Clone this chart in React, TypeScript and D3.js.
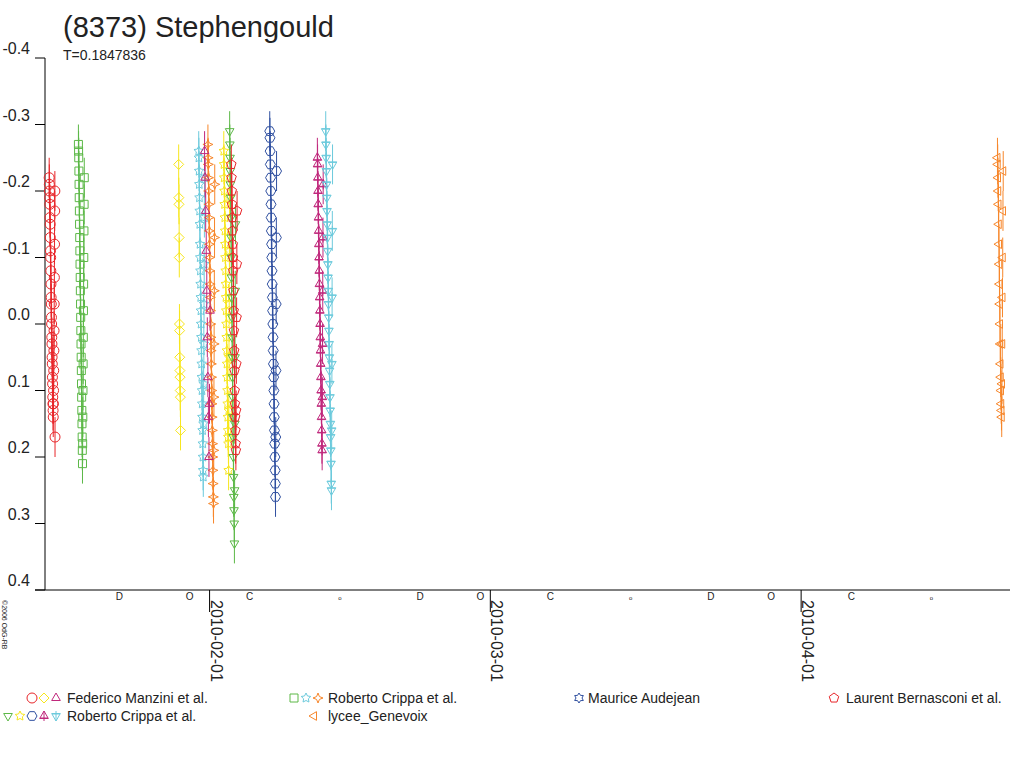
import React from "react";
import * as d3 from "d3";

const title = "(8373) Stephengould";
const subtitle = "T=0.1847836";
const yTicks = [-0.4, -0.3, -0.2, -0.1, 0.0, 0.1, 0.2, 0.3, 0.4];
const xTicks = ["2010-02-01", "2010-03-01", "2010-04-01"];
const moonDates = ["2010-01-23", "2010-01-30", "2010-02-05", "2010-02-14", "2010-02-22", "2010-02-28", "2010-03-07", "2010-03-15", "2010-03-23", "2010-03-29", "2010-04-06", "2010-04-14"];
const moonGlyphs = ["D", "O", "C", "o", "D", "O", "C", "o", "D", "O", "C", "o"];

const s1 = [-0.22, -0.21, -0.2, -0.19, -0.18, -0.16, -0.15, -0.13, -0.11, -0.1, -0.08, -0.06, -0.04, -0.03, -0.01, 0.0, 0.02, 0.03, 0.05, 0.06, 0.08, 0.09, 0.11, 0.12, 0.13, 0.14, 0.12, 0.1, 0.07, 0.04, 0.01, -0.03, -0.07, -0.12, -0.17, -0.2, 0.17];
const s2 = [-0.27, -0.26, -0.25, -0.23, -0.21, -0.19, -0.17, -0.15, -0.13, -0.11, -0.09, -0.07, -0.05, -0.03, -0.01, 0.01, 0.03, 0.05, 0.07, 0.09, 0.11, 0.13, 0.15, 0.17, 0.19, 0.21, 0.18, 0.14, 0.1, 0.06, 0.02, -0.02, -0.06, -0.1, -0.14, -0.18, -0.22];
const s3 = [-0.24, -0.19, -0.18, -0.13, -0.1, 0.0, 0.01, 0.05, 0.07, 0.08, 0.1, 0.11, 0.16];
const s4 = [-0.26, -0.25, -0.23, -0.21, -0.19, -0.17, -0.15, -0.12, -0.1, -0.08, -0.06, -0.04, -0.02, 0.0, 0.02, 0.04, 0.06, 0.08, 0.1, 0.12, 0.14, 0.16, 0.18, 0.2, 0.22, 0.23, 0.15, 0.09, 0.03, -0.03, -0.09, -0.16, -0.22];
const s5 = [-0.27, -0.25, -0.24, -0.22, -0.2, -0.18, -0.16, -0.14, -0.12, -0.1, -0.08, -0.06, -0.04, -0.02, 0.0, 0.02, 0.04, 0.06, 0.08, 0.1, 0.12, 0.14, 0.16, 0.18, 0.2, 0.22, 0.24, 0.26, 0.27, 0.19, 0.11, 0.03, -0.05, -0.13, -0.21];
const s6 = [-0.26, -0.24, -0.22, -0.2, -0.18, -0.16, -0.14, -0.12, -0.1, -0.08, -0.06, -0.04, -0.02, 0.0, 0.02, 0.04, 0.06, 0.08, 0.1, 0.12, 0.14, 0.16, 0.17, 0.18, 0.22, 0.13, 0.05, -0.03, -0.11, -0.19];
const s7 = [-0.29, -0.27, -0.25, -0.23, -0.21, -0.19, -0.16, -0.13, -0.1, -0.07, -0.04, -0.01, 0.02, 0.05, 0.08, 0.11, 0.14, 0.17, 0.2, 0.23, 0.26, 0.28, 0.3, 0.33, 0.25, 0.15, 0.05, -0.05, -0.15];
const s8 = [-0.24, -0.22, -0.2, -0.18, -0.16, -0.14, -0.12, -0.1, -0.08, -0.05, -0.02, 0.01, 0.04, 0.07, 0.1, 0.12, 0.14, 0.16, 0.18, 0.19, 0.13, 0.06, -0.01, -0.09, -0.17];
const s9 = [-0.29, -0.28, -0.26, -0.24, -0.22, -0.2, -0.18, -0.16, -0.14, -0.12, -0.1, -0.08, -0.06, -0.04, -0.02, 0.0, 0.02, 0.04, 0.06, 0.08, 0.1, 0.12, 0.14, 0.16, 0.18, 0.2, 0.22, 0.24, 0.26, 0.17, 0.07, -0.03, -0.13, -0.23];
const s10 = [-0.25, -0.24, -0.22, -0.2, -0.18, -0.16, -0.14, -0.12, -0.1, -0.08, -0.06, -0.04, -0.02, 0.0, 0.02, 0.04, 0.06, 0.08, 0.1, 0.12, 0.14, 0.16, 0.18, 0.19, 0.11, 0.03, -0.05, -0.13, -0.21];
const s11 = [-0.29, -0.27, -0.25, -0.23, -0.21, -0.19, -0.17, -0.15, -0.13, -0.11, -0.09, -0.07, -0.05, -0.03, -0.01, 0.01, 0.03, 0.05, 0.07, 0.09, 0.11, 0.13, 0.15, 0.17, 0.19, 0.21, 0.24, 0.25, 0.16, 0.06, -0.04, -0.14, -0.24];
const s12 = [-0.25, -0.24, -0.22, -0.2, -0.18, -0.15, -0.12, -0.09, -0.06, -0.03, 0.0, 0.03, 0.06, 0.08, 0.1, 0.12, 0.13, 0.14, 0.09, 0.03, -0.04, -0.1, -0.17, -0.23];
const s13 = [-0.26, -0.22, -0.17, -0.11, -0.05, 0.02, 0.08, 0.14, 0.2, 0.12, -0.02];

const sessions = [
  { start: "2010-01-16T00:00", days: 0.6, color: "#e8262a", sym: "circle", values: s1 },
  { start: "2010-01-18T22:00", days: 0.6, color: "#5cb847", sym: "square", values: s2 },
  { start: "2010-01-28T22:00", days: 0.2, color: "#f7e61c", sym: "diamond", values: s3 },
  { start: "2010-01-30T22:00", days: 0.6, color: "#6ccadc", sym: "star", values: s4 },
  { start: "2010-01-31T20:00", days: 0.7, color: "#f7862a", sym: "star4", values: s5 },
  { start: "2010-02-02T10:00", days: 0.6, color: "#f7e61c", sym: "star", values: s6 },
  { start: "2010-02-03T00:00", days: 0.6, color: "#5cb847", sym: "tdown", values: s7 },
  { start: "2010-02-03T04:00", days: 0.6, color: "#e8262a", sym: "pent", values: s8 },
  { start: "2010-02-07T00:00", days: 0.7, color: "#3050a0", sym: "hex", values: s9 },
  { start: "2010-02-11T18:00", days: 0.6, color: "#c0287c", sym: "wye", values: s10 },
  { start: "2010-02-12T14:00", days: 0.7, color: "#6ccadc", sym: "tstar", values: s11 },
  { start: "2010-04-20T14:00", days: 0.6, color: "#f7862a", sym: "tleft", values: s12 },
  { start: "2010-01-31T12:00", days: 0.6, color: "#c0287c", sym: "triangle", values: s13 },
];

const legendRows = [
  { x: 27, tx: 67, y: 698, syms: [["circle", "#e8262a"], ["diamond", "#f7e61c"], ["triangle", "#c0287c"]], label: "Federico Manzini et al." },
  { x: 289, tx: 328, y: 698, syms: [["square", "#5cb847"], ["star", "#6ccadc"], ["star4", "#f7862a"]], label: "Roberto Crippa et al." },
  { x: 574, tx: 588, y: 698, syms: [["hexstar", "#3050a0"]], label: "Maurice Audejean" },
  { x: 829, tx: 846, y: 698, syms: [["pent", "#e8262a"]], label: "Laurent Bernasconi et al." },
  { x: 3, tx: 67, y: 716, syms: [["tdown", "#5cb847"], ["star", "#f7e61c"], ["hex", "#3050a0"], ["wye", "#c0287c"], ["tstar", "#6ccadc"]], label: "Roberto Crippa et al." },
  { x: 309, tx: 328, y: 716, syms: [["tleft", "#f7862a"]], label: "lycee_Genevoix" },
];

function poly(n: number, r: number, rot: number) {
  const pts = d3.range(n).map((i) => {
    const a = rot + (i * 2 * Math.PI) / n;
    return [r * Math.cos(a), r * Math.sin(a)];
  });
  return "M" + pts.map((p) => p.join(",")).join("L") + "Z";
}
function starPath(n: number, r: number, ri: number, rot: number) {
  const pts = d3.range(2 * n).map((i) => {
    const a = rot + (i * Math.PI) / n;
    const rr = i % 2 ? ri : r;
    return [rr * Math.cos(a), rr * Math.sin(a)];
  });
  return "M" + pts.map((p) => p.join(",")).join("L") + "Z";
}
function symPath(s: string, r: number) {
  const up = -Math.PI / 2;
  switch (s) {
    case "circle": return `M${r},0A${r},${r} 0 1,1 ${-r},0A${r},${r} 0 1,1 ${r},0Z`;
    case "square": return `M${-r * 0.8},${-r * 0.8}h${r * 1.6}v${r * 1.6}h${-r * 1.6}Z`;
    case "diamond": return poly(4, r, up);
    case "triangle": return poly(3, r, up);
    case "tdown": return poly(3, r, Math.PI / 2);
    case "tleft": return poly(3, r, Math.PI);
    case "pent": return poly(5, r, up);
    case "hex": return poly(6, r, 0);
    case "star": return starPath(5, r, r * 0.5, up);
    case "star4": return starPath(4, r, r * 0.4, up);
    case "hexstar": return starPath(6, r, r * 0.6, up);
    case "wye": return poly(3, r, up) + `M0,${-r}V${r}M${-r * 0.8},${r * 0.4}H${r * 0.8}`;
    case "tstar": return poly(3, r, Math.PI / 2) + `M0,${-r}V${r}M${-r * 0.8},${-r * 0.4}H${r * 0.8}`;
    default: return poly(4, r, 0);
  }
}

export default function App() {
  const W = 1024, H = 768;
  const x = d3.scaleTime().domain([new Date("2010-01-15T14:00"), new Date("2010-04-21T20:00")]).range([45, 1010]);
  const y = d3.scaleLinear().domain([-0.4, 0.4]).range([58, 590]);
  const font = "Liberation Sans, Arial, sans-serif";
  return (
    <svg width={W} height={H} style={{ position: "absolute", left: 0, top: 0 }} fontFamily={font}>
      <rect width={W} height={H} fill="#fff" />
      <text x={63} y={37} fontSize={29} fill="#222">{title}</text>
      <text x={63} y={60} fontSize={14} fill="#222">{subtitle}</text>
      <line x1={45} x2={45} y1={58} y2={590} stroke="#000" />
      <line x1={35} x2={1010} y1={590} y2={590} stroke="#000" />
      {yTicks.map((t) => (
        <g key={t}>
          <line x1={35} x2={45} y1={y(t)} y2={y(t)} stroke="#000" />
          <text x={30} y={y(t) - 4} fontSize={16} textAnchor="end" fill="#222">{t === 0 ? "0.0" : t.toFixed(1)}</text>
        </g>
      ))}
      {xTicks.map((t) => {
        const px = x(new Date(t + "T00:00"));
        return (
          <g key={t}>
            <line x1={px} x2={px} y1={590} y2={612} stroke="#000" />
            <text transform={`translate(${px + 1},600) rotate(90)`} fontSize={16} fill="#222">{t}</text>
          </g>
        );
      })}
      {moonDates.map((d, i) => (
        <text key={d} x={x(new Date(d))} y={600} fontSize={moonGlyphs[i] === "o" ? 6 : 10} textAnchor="middle" fill="#222">{moonGlyphs[i]}</text>
      ))}
      <text transform="translate(2,600) rotate(90)" fontSize={7} fill="#222">©2006 OdG-RB</text>
      {sessions.map((s, si) => {
        const t0 = new Date(s.start).getTime();
        const n = s.values.length;
        return (
          <g key={si} stroke={s.color} fill="none">
            {s.values.map((v, i) => {
              const px = x(new Date(t0 + (i / n) * s.days * 86400000));
              const py = y(v);
              return (
                <g key={i}>
                  <line x1={px} x2={px} y1={y(v - 0.03)} y2={y(v + 0.03)} strokeWidth={1} />
                  <path d={symPath(s.sym, 5)} transform={`translate(${px},${py})`} strokeWidth={1} />
                </g>
              );
            })}
          </g>
        );
      })}
      {legendRows.map((r, ri) => (
        <g key={ri}>
          {r.syms.map(([sy, c], i) => (
            <path key={i} d={symPath(sy, 5)} transform={`translate(${r.x + 5 + i * 12},${r.y})`} stroke={c} fill="none" />
          ))}
          <text x={r.tx} y={r.y + 5} fontSize={14} fill="#222">{r.label}</text>
        </g>
      ))}
    </svg>
  );
}
